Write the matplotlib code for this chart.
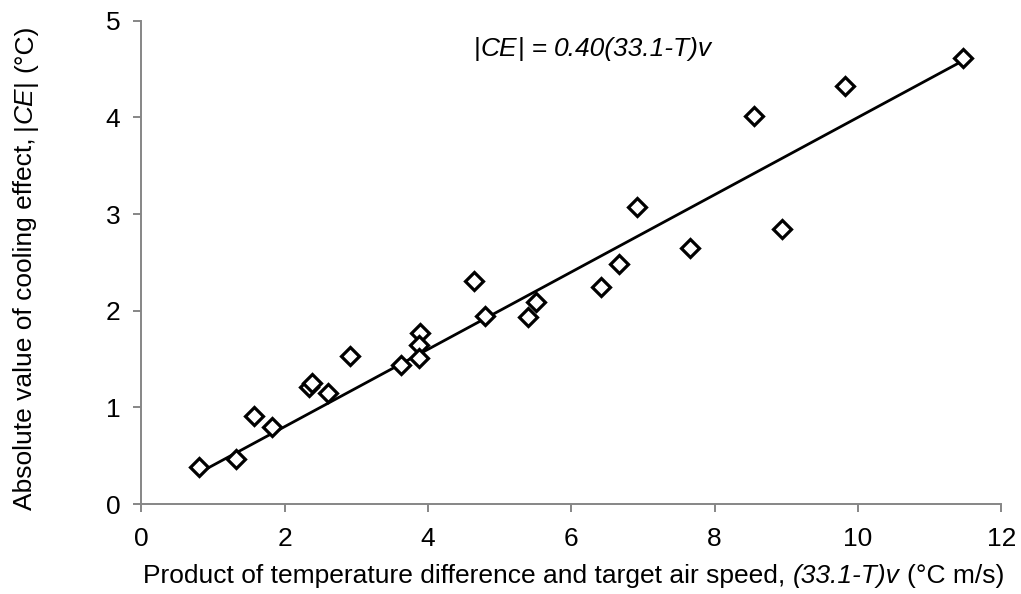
import matplotlib
matplotlib.use("Agg")
import matplotlib.pyplot as plt
import numpy as np

# ---- data ----
x_vals = [0.80, 1.32, 1.57, 1.83, 2.34, 2.38, 2.60, 2.91, 3.62, 3.89, 3.88, 3.88,
          4.64, 4.79, 5.39, 5.51, 6.42, 6.67, 6.91, 7.66, 8.55, 8.94, 9.82, 11.47]
y_vals = [0.385, 0.47, 0.91, 0.80, 1.21, 1.25, 1.15, 1.53, 1.44, 1.77, 1.65, 1.51,
          2.31, 1.94, 1.93, 2.09, 2.24, 2.48, 3.07, 2.65, 4.01, 2.85, 4.32, 4.61]
fit_slope = 0.40
x_ticks = [0, 2, 4, 6, 8, 10, 12]
y_ticks = [0, 1, 2, 3, 4, 5]

FONT = "Liberation Sans"
FS = 19
plt.rcParams["font.family"] = [FONT, "DejaVu Sans"]

W, H = 1021, 594
fig = plt.figure(figsize=(W / 100, H / 100), dpi=100)
ax = fig.add_axes([141.3 / W, 1 - 504 / H, 860 / W, (504 - 20.7) / H])

xs = np.array(x_vals)
ys = np.array(y_vals)
xl = np.array([xs.min(), xs.max()])
ax.plot(xl, fit_slope * xl, color="black", lw=2.0, zorder=2, solid_capstyle="butt")
ax.plot(xs, ys, linestyle="none", marker="D", markersize=9, markerfacecolor="white",
        markeredgecolor="black", markeredgewidth=2.3, zorder=3)

ax.set_xlim(0, 12)
ax.set_ylim(0, 5)
ax.set_xticks(x_ticks)
ax.set_yticks(y_ticks)
ax.set_xticklabels([str(t) for t in x_ticks])
ax.set_yticklabels([str(t) for t in y_ticks])
for s in ["top", "right"]:
    ax.spines[s].set_visible(False)
for s in ["left", "bottom"]:
    ax.spines[s].set_color("#868686")
    ax.spines[s].set_linewidth(1.4)
ax.tick_params(axis="both", direction="out", length=6, width=1.4, color="#868686",
               labelsize=FS, labelcolor="black")
ax.tick_params(axis="x", pad=10.5)
ax.tick_params(axis="y", pad=9)

fig.canvas.draw()
renderer = fig.canvas.get_renderer()


def measure(s, style):
    t = fig.text(0, 0, s, fontsize=FS, style=style)
    bb = t.get_window_extent(renderer)
    t.remove()
    return bb.width


SPACE = measure("a a", "normal") - measure("aa", "normal")


def rich(x_px, y_px, pieces, rotation=0):
    """pieces: list of (text, style) or gap in spaces (float). Centered along the run."""
    items = []
    total = 0.0
    for p in pieces:
        if isinstance(p, (int, float)):
            items.append((None, None, p * SPACE))
            total += p * SPACE
        else:
            w = measure(p[0], p[1])
            items.append((p[0], p[1], w))
            total += w
    pos = -total / 2
    for s, st, w in items:
        if s is not None:
            if rotation == 0:
                fig.text((x_px + pos) / W, 1 - y_px / H, s, fontsize=FS, style=st,
                         ha="left", va="baseline")
            else:
                fig.text(x_px / W, 1 - (y_px - pos) / H, s, fontsize=FS, style=st,
                         ha="left", va="baseline", rotation=90, rotation_mode="anchor")
        pos += w


# annotation
rich(593, 56, [("|", "normal"), ("CE", "italic"), ("|", "normal"), 1, ("=", "normal"), 1,
               ("0.40(33.1-T)v", "italic")])
# x label
rich(574, 583, [("Product of temperature difference and target air speed,", "normal"), 1,
                ("(33.1-T)v", "italic"), 1, ("(°C m/s)", "normal")])
# y label
rich(32, 267, [("Absolute value of cooling effect,", "normal"), 1, ("|", "normal"),
               ("CE", "italic"), ("|", "normal"), 1, ("(°C)", "normal")], rotation=90)

fig.savefig("out.png", dpi=100)
